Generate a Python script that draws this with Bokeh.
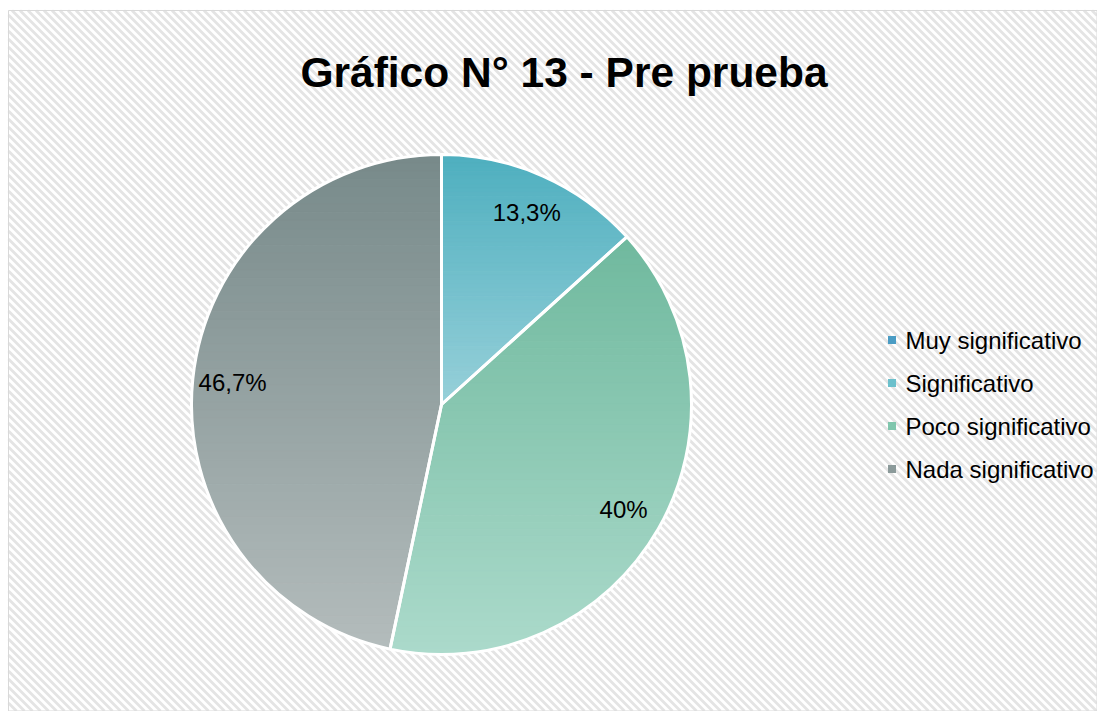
import math
from bokeh.plotting import figure
from bokeh.core.properties import value
from bokeh.embed import file_html
from bokeh.resources import INLINE

# ---- data ----
categories = ["Muy significativo", "Significativo", "Poco significativo", "Nada significativo"]
percents = [0.0, 13.3, 40.0, 46.7]
labels = ["", "13,3%", "40%", "46,7%"]
title_text = "Gráfico N° 13 - Pre prueba"

# ---- style ----
top_colors = ["#3f8fba", "#4eafbf", "#6fb99e", "#788a8a"]
bottom_colors = ["#6db5d5", "#97d0d9", "#acdacb", "#b3bcbc"]
legend_colors = ["#4a9cc4", "#6cc0cc", "#80c6ad", "#8b9a9a"]
FONT = "Liberation Sans"

W, H = 1097, 711
cx, cy, R = 441, H - 404, 250
box = (8, 1096.5, H - 710.5, H - 10)  # left, right, bottom, top

p = figure(width=W, height=H, x_range=(0, W), y_range=(0, H),
           output_backend="svg", toolbar_location=None,
           x_axis_type=None, y_axis_type=None, min_border=0)
p.grid.visible = False
p.outline_line_color = None
p.background_fill_color = "white"
p.border_fill_color = "white"

# diagonal striped background
bl, br, bb, bt = box
sx0, sy0, sx1, sy1 = [], [], [], []
c = bl + bb
while c < br + bt:
    xa = max(bl, c - bt)
    xb = min(br, c - bb)
    if xb > xa:
        sx0.append(xa); sy0.append(c - xa)
        sx1.append(xb); sy1.append(c - xb)
    c += 8
p.segment(x0=sx0, y0=sy0, x1=sx1, y1=sy1, line_color="#e4e4e4", line_width=2.8)
p.quad(left=[bl], right=[br], bottom=[bb], top=[bt], fill_alpha=0,
       line_color="#d9d9d9", line_width=1)


def hex2rgb(h):
    h = h.lstrip("#")
    return [int(h[i:i + 2], 16) for i in (0, 2, 4)]


def lerp(c1, c2, t):
    a, b = hex2rgb(c1), hex2rgb(c2)
    return "#%02x%02x%02x" % tuple(int(round(a[i] + (b[i] - a[i]) * t)) for i in range(3))


def inter(p1, p2, y):
    t = (y - p1[1]) / (p2[1] - p1[1])
    return (p1[0] + (p2[0] - p1[0]) * t, y)


def clip(poly, y, keep_above):
    out = []
    n = len(poly)
    for i in range(n):
        cur, prev = poly[i], poly[i - 1]
        cin = cur[1] >= y if keep_above else cur[1] <= y
        pin = prev[1] >= y if keep_above else prev[1] <= y
        if cin:
            if not pin:
                out.append(inter(prev, cur, y))
            out.append(cur)
        elif pin:
            out.append(inter(prev, cur, y))
    return out


total = sum(percents)
cum = 0.0
bx, by, bc = [], [], []
wedge_starts, wedge_ends = [], []
lab_x, lab_y, lab_t = [], [], []
for i, v in enumerate(percents):
    a0 = math.pi / 2 - 2 * math.pi * cum / total
    a1 = math.pi / 2 - 2 * math.pi * (cum + v) / total
    cum += v
    if v <= 0:
        continue
    wedge_starts.append(a0)
    wedge_ends.append(a1)
    n = max(8, int(abs(a1 - a0) * 60))
    poly = [(cx, cy)] + [(cx + R * math.cos(a0 + (a1 - a0) * k / n),
                          cy + R * math.sin(a0 + (a1 - a0) * k / n)) for k in range(n + 1)]
    ytop = max(q[1] for q in poly)
    ybot = min(q[1] for q in poly)
    nb = 60
    for b in range(nb):
        yt = ytop - (ytop - ybot) * b / nb
        yb = ytop - (ytop - ybot) * (b + 1) / nb - 0.6
        band = clip(clip(poly, yb, True), yt, False)
        if len(band) < 3:
            continue
        col = lerp(top_colors[i], bottom_colors[i], (b + 0.5) / nb)
        bx.append([q[0] for q in band])
        by.append([q[1] for q in band])
        bc.append(col)
    am = (a0 + a1) / 2
    lab_x.append(cx + 0.84 * R * math.cos(am))
    lab_y.append(cy + 0.84 * R * math.sin(am))
    lab_t.append(labels[i])

p.patches(xs=bx, ys=by, fill_color=bc, line_color=bc, line_width=0.6)
p.wedge(x=[cx] * len(wedge_starts), y=[cy] * len(wedge_starts), radius=R,
        start_angle=wedge_starts, end_angle=wedge_ends, direction="clock",
        fill_alpha=0, line_color="white", line_width=3)

p.text(x=lab_x, y=lab_y, text=lab_t, text_font=value(FONT), text_font_size="24px",
       text_align="center", text_baseline="middle", text_color="#000000")

# title
p.text(x=[563.5], y=[H - 72], text=[title_text], text_font=value(FONT),
       text_font_size="42.5px", text_font_style="bold", text_align="center",
       text_baseline="alphabetic", text_color="#000000")

# legend
leg_x0 = 891.5
leg_y0 = H - 339.5
leg_dy = 43
ly = [leg_y0 - k * leg_dy for k in range(len(categories))]
p.scatter(x=[leg_x0] * len(categories), y=ly, marker="square", size=8,
          fill_color=legend_colors, line_color=None)
p.text(x=[leg_x0 + 13.5] * len(categories), y=ly, text=categories, text_font=value(FONT),
       text_font_size="24px", text_align="left", text_baseline="middle", text_color="#000000")

open("out.html", "w").write(file_html(p, INLINE))
